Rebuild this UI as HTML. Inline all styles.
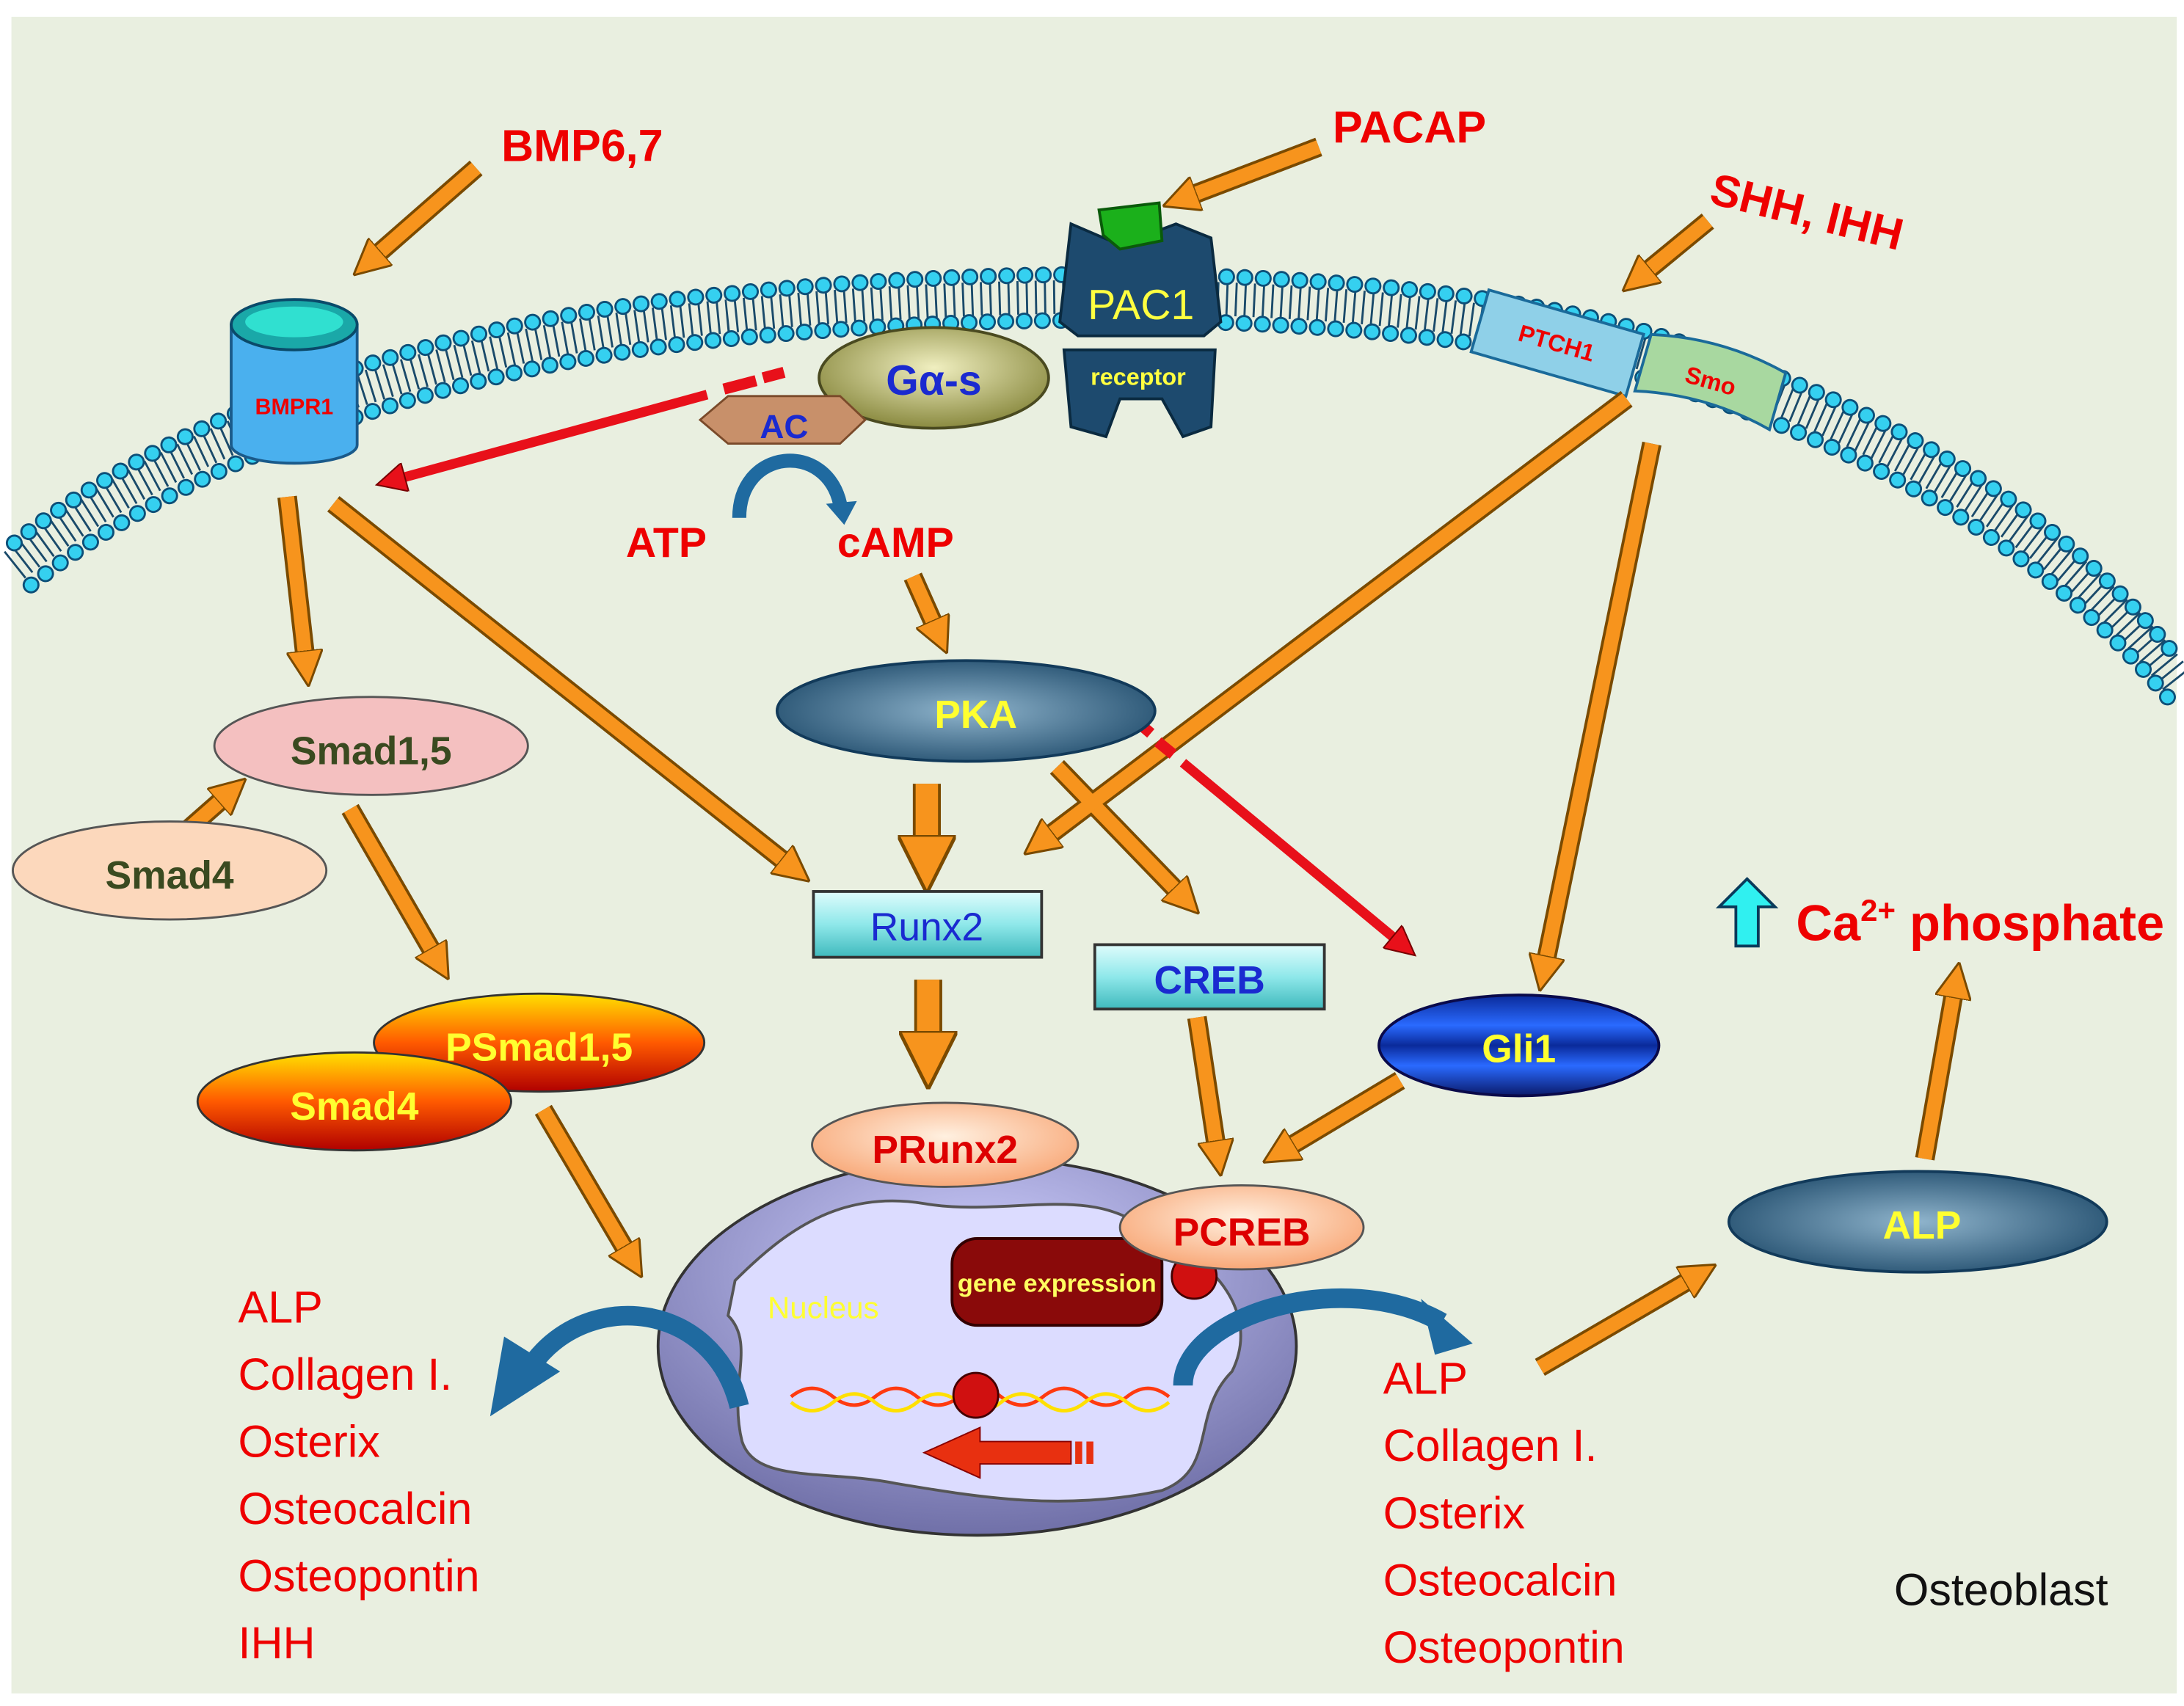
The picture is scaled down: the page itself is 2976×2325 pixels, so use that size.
<!DOCTYPE html>
<html><head><meta charset="utf-8"><style>
html,body{margin:0;padding:0;background:#fff}
svg{display:block}
text{font-family:"Liberation Sans","DejaVu Sans",sans-serif}
</style></head><body>
<svg width="2976" height="2325" viewBox="0 0 1560 1219" xmlns="http://www.w3.org/2000/svg">
<defs>
<marker id="ah" viewBox="0 0 10 10" refX="2" refY="5" markerWidth="2.6" markerHeight="2.6" orient="auto" markerUnits="strokeWidth">
<path d="M0,0 L10,5 L0,10 z" fill="#f7941d" stroke="#7a4a00" stroke-width="0.6"/></marker>
<marker id="rh" viewBox="0 0 10 10" refX="2" refY="5" markerWidth="4" markerHeight="3" orient="auto" markerUnits="strokeWidth">
<path d="M0,0 L10,5 L0,10 z" fill="#e8101a" stroke="#700" stroke-width="0.5"/></marker>
<linearGradient id="cyanbox" x1="0" y1="0" x2="0" y2="1"><stop offset="0" stop-color="#dffcfc"/><stop offset="0.5" stop-color="#8fe8ea"/><stop offset="1" stop-color="#3fb9bd"/></linearGradient>
<radialGradient id="pka" cx="0.5" cy="0.5" r="0.6"><stop offset="0" stop-color="#8fb4cc"/><stop offset="1" stop-color="#1e4a6a"/></radialGradient>
<linearGradient id="psm" x1="0" y1="0" x2="0" y2="1"><stop offset="0" stop-color="#ffe000"/><stop offset="0.5" stop-color="#ff5a00"/><stop offset="1" stop-color="#b00000"/></linearGradient>
<radialGradient id="peach" cx="0.5" cy="0.4" r="0.6"><stop offset="0" stop-color="#fff0e0"/><stop offset="1" stop-color="#f8a878"/></radialGradient>
<linearGradient id="gli" x1="0" y1="0" x2="0" y2="1"><stop offset="0" stop-color="#0a2a9a"/><stop offset="0.3" stop-color="#2a6aff"/><stop offset="0.5" stop-color="#0a2a9a"/><stop offset="0.7" stop-color="#2a6aff"/><stop offset="1" stop-color="#0a1a6a"/></linearGradient>
<radialGradient id="nuc" cx="0.5" cy="0.3" r="0.7"><stop offset="0" stop-color="#d0d0ff"/><stop offset="1" stop-color="#7070a8"/></radialGradient>
<radialGradient id="gas" cx="0.5" cy="0.4" r="0.6"><stop offset="0" stop-color="#f0efc0"/><stop offset="1" stop-color="#8a8a40"/></radialGradient>
</defs>
<rect x="8" y="12" width="1547" height="1198" fill="#e9efe0"/>

<!-- membrane -->
<g fill="none" stroke-linecap="round">
<path d="M10,388 C120,300 300,230 520,210 C760,185 1000,195 1150,230 C1320,275 1460,350 1555,470" stroke="#1a4a6a" stroke-width="24" stroke-dasharray="1.5 5" stroke-linecap="butt" transform="translate(0,16)"/>
<path d="M10,388 C120,300 300,230 520,210 C760,185 1000,195 1150,230 C1320,275 1460,350 1555,470" stroke="#0d4f78" stroke-width="12" stroke-dasharray="0.1 13"/>
<path d="M10,388 C120,300 300,230 520,210 C760,185 1000,195 1150,230 C1320,275 1460,350 1555,470" stroke="#35d0f0" stroke-width="9" stroke-dasharray="0.1 13"/>
<path d="M22,418 C130,332 310,262 522,242 C760,218 1000,228 1145,262 C1310,305 1450,380 1550,500" stroke="#0d4f78" stroke-width="12" stroke-dasharray="0.1 13"/>
<path d="M22,418 C130,332 310,262 522,242 C760,218 1000,228 1145,262 C1310,305 1450,380 1550,500" stroke="#35d0f0" stroke-width="9" stroke-dasharray="0.1 13"/>
</g>

<!-- BMPR1 -->
<path d="M165,232 L165,318 A45,13 0 0 0 255,318 L255,232 Z" fill="#4ab0ee" stroke="#1a5a8a" stroke-width="2"/>
<ellipse cx="210" cy="232" rx="45" ry="18" fill="#1aa8a8" stroke="#0a4a6a" stroke-width="2"/>
<ellipse cx="210" cy="230" rx="35" ry="11" fill="#30e0d0"/>
<text x="210" y="296" font-size="16" font-weight="bold" fill="#e00" text-anchor="middle">BMPR1</text>

<!-- PAC1 receptor -->
<path d="M765,160 L800,175 L840,160 L865,170 L872,230 L860,240 L770,240 L757,230 Z" fill="#1d4a6e" stroke="#0a2a40" stroke-width="2"/>
<path d="M760,250 L868,250 L865,305 L845,312 L830,285 L800,285 L790,312 L765,305 Z" fill="#1d4a6e" stroke="#0a2a40" stroke-width="2"/>
<path d="M785,150 L828,145 L830,172 L800,178 L788,168 Z" fill="#1bb01b" stroke="#0a5a0a" stroke-width="2"/>
<text x="815" y="228" font-size="30" fill="#ffff40" text-anchor="middle">PAC1</text>
<text x="813" y="275" font-size="17" font-weight="bold" fill="#ffff40" text-anchor="middle">receptor</text>

<!-- Gas -->
<ellipse cx="667" cy="270" rx="82" ry="36" fill="url(#gas)" stroke="#4a4a20" stroke-width="2"/>
<text x="667" y="282" font-size="30" font-weight="bold" fill="#1a2ad0" text-anchor="middle">Gα-s</text>
<!-- AC -->
<polygon points="500,300 520,283 600,283 618,300 600,317 520,317" fill="#c8906a" stroke="#7a4a2a" stroke-width="1.5"/>
<text x="560" y="313" font-size="24" font-weight="bold" fill="#1a2ad0" text-anchor="middle">AC</text>
<path d="M528,370 C528,320 590,315 600,360" fill="none" stroke="#1f6aa0" stroke-width="10"/>
<polygon points="590,360 612,358 603,375" fill="#1f6aa0"/>
<text x="447" y="398" font-size="30" font-weight="bold" fill="#e00">ATP</text>
<text x="598" y="398" font-size="30" font-weight="bold" fill="#e00">cAMP</text>

<!-- PTCH1 / Smo -->
<g transform="rotate(16 1112 245)"><rect x="1055" y="222" width="115" height="46" fill="#8fd0e8" stroke="#1a6a9a" stroke-width="2"/>
<text x="1112" y="251" font-size="17" font-weight="bold" fill="#e00" text-anchor="middle">PTCH1</text></g>
<g transform="rotate(16 1222 272)"><path d="M1172,252 Q1222,240 1272,252 L1272,294 Q1222,282 1172,294 Z" fill="#a8d8a0" stroke="#1a6a9a" stroke-width="2"/>
<text x="1222" y="278" font-size="17" font-weight="bold" fill="#e00" text-anchor="middle">Smo</text></g>

<!-- Ligand labels -->
<text x="358" y="115" font-size="32" font-weight="bold" fill="#e00">BMP6,7</text>
<text x="952" y="102" font-size="32" font-weight="bold" fill="#e00">PACAP</text>
<text x="1220" y="145" font-size="32" font-weight="bold" fill="#e00" transform="rotate(14 1220 145)">SHH, IHH</text>

<!-- orange arrows -->
<g fill="none" stroke-linecap="butt">
<g stroke="#7a4a00" stroke-width="14">
<line x1="340" y1="120" x2="268" y2="183"/><line x1="942" y1="105" x2="850" y2="140"/><line x1="1220" y1="158" x2="1175" y2="195"/>
<line x1="205" y1="355" x2="218" y2="470"/><line x1="238" y1="360" x2="562" y2="617"/><line x1="135" y1="592" x2="160" y2="570"/>
<line x1="250" y1="578" x2="310" y2="682"/><line x1="388" y1="793" x2="448" y2="895"/><line x1="652" y1="412" x2="668" y2="448"/>
<line x1="755" y1="548" x2="842" y2="638"/><line x1="1162" y1="285" x2="748" y2="598"/><line x1="1180" y1="317" x2="1104" y2="688"/>
<line x1="855" y1="727" x2="869" y2="820"/><line x1="1000" y1="772" x2="920" y2="820"/><line x1="1100" y1="977" x2="1208" y2="914"/>
<line x1="1375" y1="828" x2="1396" y2="708"/>
</g>
<g stroke="#f7941d" stroke-width="10" marker-end="url(#ah)">
<line x1="340" y1="120" x2="268" y2="183"/><line x1="942" y1="105" x2="850" y2="140"/><line x1="1220" y1="158" x2="1175" y2="195"/>
<line x1="205" y1="355" x2="218" y2="470"/><line x1="238" y1="360" x2="562" y2="617"/><line x1="135" y1="592" x2="160" y2="570"/>
<line x1="250" y1="578" x2="310" y2="682"/><line x1="388" y1="793" x2="448" y2="895"/><line x1="652" y1="412" x2="668" y2="448"/>
<line x1="755" y1="548" x2="842" y2="638"/><line x1="1162" y1="285" x2="748" y2="598"/><line x1="1180" y1="317" x2="1104" y2="688"/>
<line x1="855" y1="727" x2="869" y2="820"/><line x1="1000" y1="772" x2="920" y2="820"/><line x1="1100" y1="977" x2="1208" y2="914"/>
<line x1="1375" y1="828" x2="1396" y2="708"/>
</g>
<!-- thick vertical -->
<line x1="662" y1="560" x2="662" y2="605" stroke="#7a4a00" stroke-width="20"/>
<line x1="662" y1="560" x2="662" y2="605" stroke="#f7941d" stroke-width="16" marker-end="url(#ah)"/>
<line x1="663" y1="700" x2="663" y2="745" stroke="#7a4a00" stroke-width="20"/>
<line x1="663" y1="700" x2="663" y2="745" stroke="#f7941d" stroke-width="16" marker-end="url(#ah)"/>
<!-- red arrows -->
<line x1="505" y1="282" x2="285" y2="342" stroke="#e8101a" stroke-width="7" marker-end="url(#rh)"/>
<line x1="517" y1="278" x2="540" y2="272" stroke="#e8101a" stroke-width="8"/>
<line x1="545" y1="270" x2="560" y2="266" stroke="#e8101a" stroke-width="8"/>
<line x1="845" y1="545" x2="998" y2="672" stroke="#e8101a" stroke-width="7" marker-end="url(#rh)"/>
<line x1="815" y1="518" x2="822" y2="524" stroke="#e8101a" stroke-width="8"/>
<line x1="827" y1="530" x2="838" y2="539" stroke="#e8101a" stroke-width="8"/>
</g>

<!-- PKA -->
<ellipse cx="690" cy="508" rx="135" ry="36" fill="url(#pka)" stroke="#123a5a" stroke-width="2"/>
<text x="697" y="520" font-size="28" font-weight="bold" fill="#ffff30" text-anchor="middle">PKA</text>

<!-- Smads -->
<ellipse cx="265" cy="533" rx="112" ry="35" fill="#f4c0c0" stroke="#555" stroke-width="1.5"/>
<text x="265" y="546" font-size="28" font-weight="bold" fill="#3a4a20" text-anchor="middle">Smad1,5</text>
<ellipse cx="121" cy="622" rx="112" ry="35" fill="#fcd8bc" stroke="#555" stroke-width="1.5"/>
<text x="121" y="635" font-size="28" font-weight="bold" fill="#3a4a20" text-anchor="middle">Smad4</text>
<ellipse cx="385" cy="745" rx="118" ry="35" fill="url(#psm)" stroke="#333" stroke-width="1.5"/>
<text x="385" y="758" font-size="28" font-weight="bold" fill="#ffff30" text-anchor="middle">PSmad1,5</text>
<ellipse cx="253" cy="787" rx="112" ry="35" fill="url(#psm)" stroke="#333" stroke-width="1.5"/>
<text x="253" y="800" font-size="28" font-weight="bold" fill="#ffff30" text-anchor="middle">Smad4</text>

<!-- Runx2 / CREB -->
<rect x="581" y="637" width="163" height="47" fill="url(#cyanbox)" stroke="#333" stroke-width="2"/>
<text x="662" y="672" font-size="28" fill="#1a2ad0" text-anchor="middle">Runx2</text>
<rect x="782" y="675" width="164" height="46" fill="url(#cyanbox)" stroke="#333" stroke-width="2"/>
<text x="864" y="710" font-size="28" font-weight="bold" fill="#1a2ad0" text-anchor="middle">CREB</text>

<!-- Gli1 -->
<ellipse cx="1085" cy="747" rx="100" ry="36" fill="url(#gli)" stroke="#0a0a4a" stroke-width="2"/>
<text x="1085" y="759" font-size="28" font-weight="bold" fill="#ffff30" text-anchor="middle">Gli1</text>

<!-- Nucleus -->
<ellipse cx="698" cy="962" rx="228" ry="135" fill="url(#nuc)" stroke="#333" stroke-width="2"/>
<path d="M525,915 C560,880 600,850 660,860 C720,870 780,845 820,880 C870,900 900,940 880,980 C850,1010 870,1050 830,1065 C760,1080 700,1070 640,1060 C590,1050 540,1060 530,1030 C520,990 540,960 520,940 Z" fill="#dcdcff" stroke="#555" stroke-width="2"/>
<rect x="680" y="885" width="150" height="62" rx="18" fill="#8a0a0a" stroke="#300" stroke-width="2"/>
<text x="755" y="923" font-size="18" font-weight="bold" fill="#ffff60" text-anchor="middle">gene expression</text>
<ellipse cx="853" cy="912" rx="16" ry="16" fill="#d01010" stroke="#400" stroke-width="1.5"/>
<text x="588" y="942" font-size="22" fill="#ffff30" text-anchor="middle">Nucleus</text>
<path d="M565,998 q15,-12 30,0 t30,0 t30,0 t30,0 t30,0 t30,0 t30,0 t30,0 t30,0" fill="none" stroke="#ff3a10" stroke-width="2.5"/>
<path d="M565,1002 q15,12 30,0 t30,0 t30,0 t30,0 t30,0 t30,0 t30,0 t30,0 t30,0" fill="none" stroke="#ffe000" stroke-width="2.5"/>
<ellipse cx="697" cy="997" rx="16" ry="16" fill="#d01010" stroke="#400" stroke-width="1.5"/>
<polygon points="660,1038 700,1020 700,1030 765,1030 765,1046 700,1046 700,1056" fill="#e83010" stroke="#800" stroke-width="1"/>
<rect x="768" y="1030" width="5" height="16" fill="#e83010"/><rect x="776" y="1030" width="5" height="16" fill="#e83010"/>
<!-- blue curved arrows -->
<path d="M528,1005 C510,930 420,920 380,975" fill="none" stroke="#1f6aa0" stroke-width="14"/>
<polygon points="350,1012 360,955 400,980" fill="#1f6aa0"/>
<path d="M845,990 C845,940 960,905 1030,945" fill="none" stroke="#1f6aa0" stroke-width="14"/>
<polygon points="1052,960 1015,928 1025,968" fill="#1f6aa0"/>

<ellipse cx="675" cy="818" rx="95" ry="30" fill="url(#peach)" stroke="#555" stroke-width="1.5"/>
<text x="675" y="831" font-size="28" font-weight="bold" fill="#d00" text-anchor="middle">PRunx2</text>
<ellipse cx="887" cy="877" rx="87" ry="30" fill="url(#peach)" stroke="#555" stroke-width="1.5"/>
<text x="887" y="890" font-size="28" font-weight="bold" fill="#d00" text-anchor="middle">PCREB</text>

<!-- ALP -->
<ellipse cx="1370" cy="873" rx="135" ry="36" fill="url(#pka)" stroke="#123a5a" stroke-width="2"/>
<text x="1373" y="885" font-size="28" font-weight="bold" fill="#ffff30" text-anchor="middle">ALP</text>

<!-- Ca phosphate -->
<polygon points="1248,628 1268,648 1256,648 1256,676 1240,676 1240,648 1228,648" fill="#30f0f0" stroke="#0a3a5a" stroke-width="2"/>
<text x="1283" y="672" font-size="36" font-weight="bold" fill="#e00" font-family="Liberation Serif, serif">Ca<tspan font-size="22" dy="-14">2+</tspan><tspan dy="14"> phosphate</tspan></text>

<!-- lists -->
<g font-size="32" fill="#e00">
<text x="170" y="945">ALP</text><text x="170" y="993">Collagen I.</text><text x="170" y="1041">Osterix</text>
<text x="170" y="1089">Osteocalcin</text><text x="170" y="1137">Osteopontin</text><text x="170" y="1185">IHH</text>
<text x="988" y="996">ALP</text><text x="988" y="1044">Collagen I.</text><text x="988" y="1092">Osterix</text>
<text x="988" y="1140">Osteocalcin</text><text x="988" y="1188">Osteopontin</text>
</g>
<text x="1353" y="1147" font-size="32" fill="#111">Osteoblast</text>
</svg>
</body></html>
